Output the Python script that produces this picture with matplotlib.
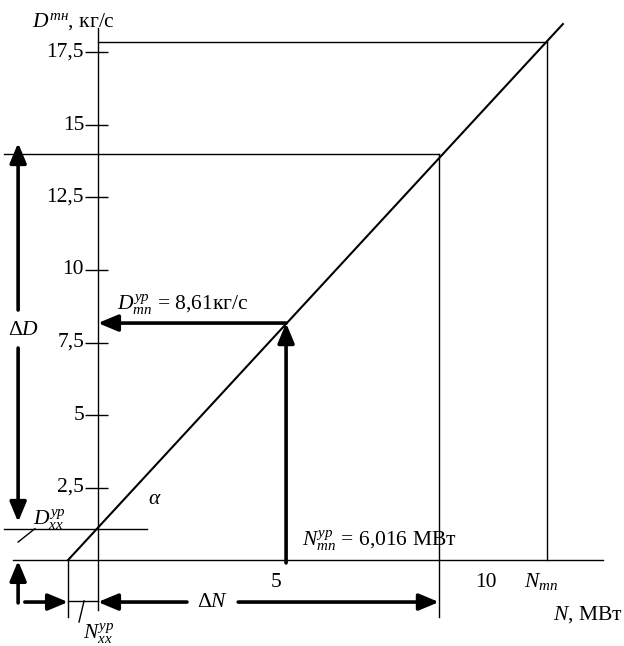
import matplotlib.pyplot as plt

plt.rcParams['font.family'] = 'Liberation Serif'
plt.rcParams['mathtext.fontset'] = 'custom'
plt.rcParams['mathtext.rm'] = 'Liberation Serif'
plt.rcParams['mathtext.it'] = 'Liberation Serif:italic'

# ---- values (N in MW, D in kg/s) ----
d_ticks = [2.5, 5, 7.5, 10, 12.5, 15, 17.5]
d_tick_labels = ["2,5", "5", "7,5", "10", "12,5", "15", "17,5"]
n_ticks = [5, 10]
n_tick_labels = ["5", "10"]

n_line = [0.05, 11.83]      # turbine characteristic
d_line = [0.0, 18.48]

n_yaxis = 0.76              # where the D axis stands
n_op, d_op = 5.24, 8.17     # working point (N_tp^ur, D_tp^ur)
d_xx = 1.08                 # idle flow
d_dmax = 14.0               # top of delta D
n_dmax = 8.88
d_tp, n_tp = 17.86, 11.45   # nominal point

fig = plt.figure(figsize=(6.24, 6.46), dpi=100)
ax = fig.add_axes([0, 0, 1, 1])
ax.set_xlim(-66 / 42, (624 - 66) / 42)
ax.set_ylim((560 - 646) / 29, 560 / 29)
ax.axis('off')

k = 'black'
fs = 15.5
# axes
ax.plot([n_yaxis, n_yaxis], [18.34, -1.72], color=k, lw=1.0)
ax.plot([-1.26, 12.79], [0, 0], color=k, lw=1.0)
ax.hlines(d_ticks, 0.45, 1.0, color=k, lw=1.0)
for d, lab in zip(d_ticks, d_tick_labels):
    ax.text(0.43, d, lab, ha='right', va='center', fontsize=fs)
for n, lab in zip(n_ticks, n_tick_labels):
    ax.text(n, -0.94, lab, ha='center', va='baseline', fontsize=fs)

# characteristic
ax.plot(n_line, d_line, color=k, lw=1.5)

# helper lines
ax.plot([-1.48, 1.93], [d_xx, d_xx], color=k, lw=1.0)
ax.plot([-1.48, n_dmax], [d_dmax, d_dmax], color=k, lw=1.0)
ax.plot([n_dmax, n_dmax], [d_dmax, -1.97], color=k, lw=1.0)
ax.plot([n_yaxis, n_tp], [d_tp, d_tp], color=k, lw=1.0)
ax.plot([n_tp, n_tp], [d_tp, 0], color=k, lw=1.0)
ax.plot([n_line[0], n_line[0]], [0, -1.97], color=k, lw=1.0)
ax.plot([n_line[0], n_yaxis], [-1.41, -1.41], color=k, lw=1.0)
ax.plot([0.43, 0.31], [-1.41, -2.14], color=k, lw=1.0)
ax.plot([-1.14, -0.74], [0.62, 1.08], color=k, lw=1.0)


def arrow(x0, y0, x1, y1):
    ax.annotate("", xy=(x1, y1), xytext=(x0, y0),
                arrowprops=dict(arrowstyle="-|>,head_length=1.2,head_width=0.5",
                                lw=2.6, color=k, shrinkA=0, shrinkB=0))


# thick arrows
arrow(n_op, -0.1, n_op, d_op)
arrow(n_op, d_op, n_yaxis, d_op)
arrow(-1.14, 8.62, -1.14, 14.38)
arrow(-1.14, 7.31, -1.14, 1.31)
arrow(-1.14, -1.48, -1.14, -0.03)
arrow(-0.98, -1.45, n_line[0], -1.45)
arrow(2.88, -1.45, n_yaxis, -1.45)
arrow(4.10, -1.45, n_dmax, -1.45)

# labels
ax.text(-0.81, 18.38, r"$D^{тн}$, кг/с", fontsize=fs, va='baseline')
ax.text(1.21, 8.62, r"$D^{ур}_{тп}$ = 8,61кг/с", fontsize=fs, va='baseline')
ax.text(5.62, 0.47, r"$N^{ур}_{тп}$ = 6,016 МВт", fontsize=fs, va='baseline')
ax.text(11.31, -0.94, r"$N_{тп}$", fontsize=fs, va='baseline', ha='center')
ax.text(11.6, -2.07, r"$N$, МВт", fontsize=fs, va='baseline')
ax.text(3.48, -1.45, r"$\Delta N$", fontsize=fs, va='center', ha='center')
ax.text(-1.0, 7.91, r"$\Delta D$", fontsize=fs, va='center', ha='center')
ax.text(0.40, -2.72, r"$N^{ур}_{хх}$", fontsize=fs, va='baseline')
ax.text(-0.79, 1.21, r"$D^{ур}_{хх}$", fontsize=fs, va='baseline')
ax.text(2.12, 2.07, r"$\alpha$", fontsize=fs, va='center', ha='center')

fig.savefig("out.png", dpi=100)
